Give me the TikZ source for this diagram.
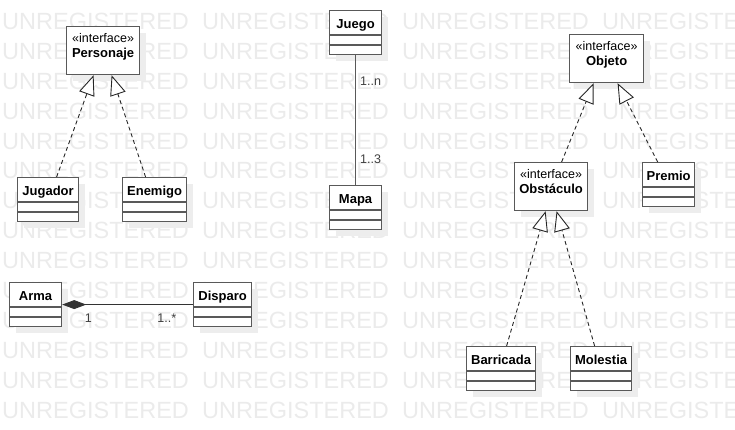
\documentclass[tikz,border=0pt]{standalone}
\usepackage{fontspec}
\setmainfont{Liberation Sans}
\usetikzlibrary{arrows.meta,shadows}

\newcommand{\umlstereo}{{\mdseries\fontsize{12.5}{15}\selectfont «interface»}}

\begin{document}
\begin{tikzpicture}
  [x=1pt,y=-1pt,
   every node/.style={font=\fontsize{13}{15}\selectfont},
   watermark/.style={anchor=west,inner sep=0pt,text=black!8,font=\fontsize{23.5}{28}\selectfont},
   classbox/.style={draw=black!65,line width=1.2pt,fill=white,anchor=north west,
     inner xsep=4pt,inner ysep=0pt,minimum height=44pt,text height=18pt,text depth=26pt,
     font=\bfseries\fontsize{13}{15}\selectfont,
     drop shadow={shadow xshift=6pt,shadow yshift=-6pt,fill=black!7,opacity=1}},
   ifacebox/.style={classbox,align=center,text height=15.5pt,text depth=32.5pt},
   realize/.style={draw=black!85,line width=0.9pt,dash pattern=on 4pt off 3pt,
     -{Triangle[fill=white,length=20pt,width=16pt]}},
   mult/.style={inner sep=0pt,text=black!75,font=\fontsize{12.5}{15}\selectfont}]
  \clip (0,0) rectangle (735,430);
  % background text
  \foreach \r in {0,...,13}
    \foreach \c in {0,...,3}
      \node[watermark] (wm-\r-\c) at (\c*200+2, 21.5+\r*29.88) {UNREGISTERED};

  \node[ifacebox,text width=65pt] (per) at (66,26) {\umlstereo\\Personaje};
  \node[classbox,minimum width=61pt] (jug) at (17,177) {Jugador};
  \node[classbox,minimum width=64pt] (ene) at (122,177) {Enemigo};
  \node[classbox,minimum width=52pt] (arm) at (9,282) {Arma};
  \node[classbox,minimum width=58pt] (dis) at (193,282) {Disparo};
  \node[classbox,minimum width=52pt] (jue) at (329,10) {Juego};
  \node[classbox,minimum width=52pt] (map) at (329,185) {Mapa};
  \node[ifacebox,text width=66pt] (obj) at (569,34) {\umlstereo\\Objeto};
  \node[ifacebox,text width=65pt] (obs) at (514,162) {\umlstereo\\Obstáculo};
  \node[classbox,minimum width=52pt] (pre) at (642,162) {Premio};
  \node[classbox,minimum width=69pt] (bar) at (466,346) {Barricada};
  \node[classbox,minimum width=61pt] (mol) at (570,346) {Molestia};

  \foreach \c in {jug,ene,arm,dis,jue,map,pre,bar,mol}
    \draw[black!65,line width=1.2pt]
      ([yshift=-25pt]\c.north west) -- ([yshift=-25pt]\c.north east)
      ([yshift=-35pt]\c.north west) -- ([yshift=-35pt]\c.north east);

  % realizations
  \foreach \from/\fs/\to/\ts in {jug/8.5/per/-9.5,ene/-9/per/8.5,obs/10.5/obj/-13,
      pre/-11/obj/11,bar/5.5/obs/-5.5,mol/-6.5/obs/5.5}
    \draw[realize] ([xshift=\fs pt]\from.north) -- ([xshift=\ts pt]\to.south);

  \draw[black!65,line width=1.2pt] (jue) -- (map)
    node[mult,pos=0.2,right=4pt] {1..n}
    node[mult,pos=0.8,right=4pt] {1..3};
  \draw[black!80,line width=1pt,{Diamond[length=24pt,width=9pt]}-] (arm) -- (dis)
    node[mult,pos=0.2,below=9pt] {1}
    node[mult,pos=0.8,below=9pt] {1..*};
\end{tikzpicture}
\end{document}
